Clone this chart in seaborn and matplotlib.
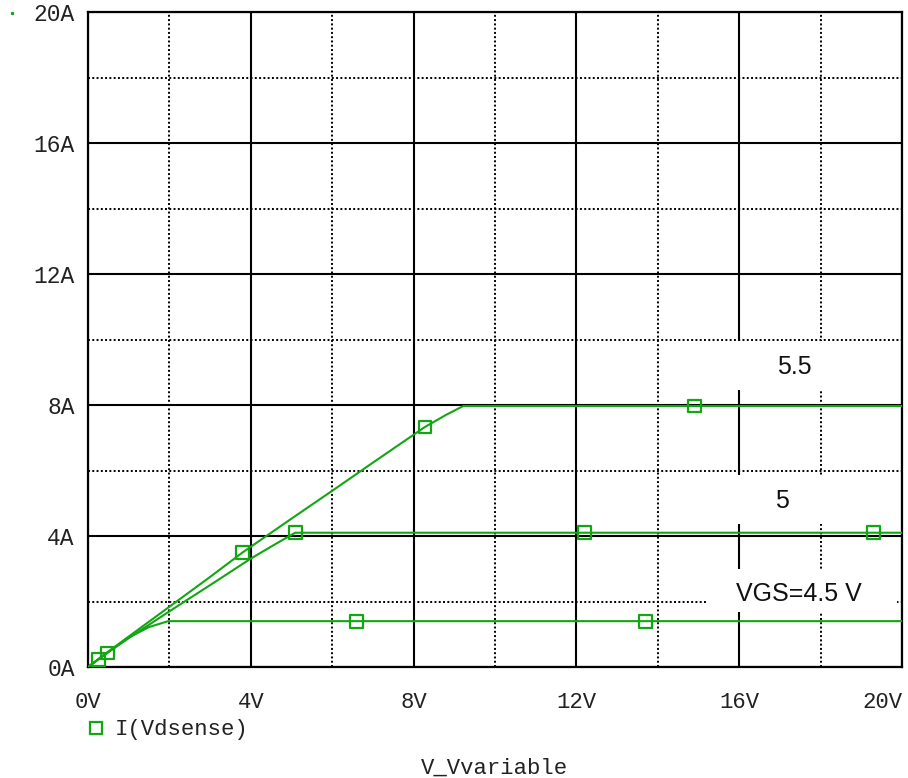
import numpy as np
import pandas as pd
import matplotlib
matplotlib.use("Agg")
import matplotlib.pyplot as plt
import seaborn as sns
from matplotlib.lines import Line2D
from matplotlib.patches import Rectangle
from matplotlib.ticker import MultipleLocator, FuncFormatter

# ---------------- data ----------------
vgs_labels = ["4.5", "5", "5.5"]

v_45 = [0.0, 0.5, 1.0, 1.5, 1.97, 20.0]
i_45 = [0.0, 0.47, 0.90, 1.22, 1.40, 1.40]

v_50 = [0.0, 0.5, 1.0, 2.0, 3.0, 4.0, 4.6, 5.09, 20.0]
i_50 = [0.0, 0.45, 0.88, 1.70, 2.50, 3.31, 3.75, 4.10, 4.10]

v_55 = [0.0, 0.5, 1.0, 2.0, 3.0, 3.8, 5.0, 6.0, 7.0, 8.28, 8.8, 9.22, 20.0]
i_55 = [0.0, 0.47, 0.93, 1.84, 2.75, 3.50, 4.53, 5.38, 6.24, 7.33, 7.70, 7.97, 7.97]

# symbol markers placed along the traces
mk_v = [0.25, 6.6, 13.7, 0.47, 5.09, 12.2, 19.3, 3.8, 8.28, 14.9]
mk_i = [0.24, 1.40, 1.40, 0.43, 4.10, 4.10, 4.10, 3.50, 7.33, 7.97]

x_ticks = [0, 4, 8, 12, 16, 20]
y_ticks = [0, 4, 8, 12, 16, 20]

trace_labels = ["VGS=4.5 V", "5", "5.5"]
trace_label_pos = [(17.46, 2.23), (17.05, 5.07), (17.35, 9.16)]
legend_label = "I(Vdsense)"
x_title = "V_Vvariable"

# ---------------- style ----------------
GREEN = "#12A612"
sns.set_style("white")
plt.rcParams["font.family"] = ["Liberation Mono", "DejaVu Sans Mono"]

fig = plt.figure(figsize=(9.08, 7.78), dpi=100)
ax = fig.add_axes([88 / 908, 1 - 667 / 778, 814 / 908, 655 / 778])

df = pd.concat([
    pd.DataFrame({"V": v_45, "I": i_45, "VGS": vgs_labels[0]}),
    pd.DataFrame({"V": v_50, "I": i_50, "VGS": vgs_labels[1]}),
    pd.DataFrame({"V": v_55, "I": i_55, "VGS": vgs_labels[2]}),
], ignore_index=True)

sns.lineplot(data=df, x="V", y="I", hue="VGS", palette=[GREEN] * 3,
             estimator=None, sort=False, legend=False, linewidth=1.5, ax=ax,
             zorder=3)

mk = pd.DataFrame({"V": mk_v, "I": mk_i})
sns.scatterplot(data=mk, x="V", y="I", marker="s", s=85, color=GREEN,
                linewidth=1.6, ax=ax, zorder=4, legend=False)
for coll in ax.collections:
    coll.set_facecolor("none")
    coll.set_edgecolor(GREEN)

ax.set_xlim(0, 20)
ax.set_ylim(0, 20)
ax.xaxis.set_minor_locator(MultipleLocator(2))
ax.yaxis.set_minor_locator(MultipleLocator(2))
ax.set_xticks(x_ticks)
ax.set_yticks(y_ticks)
ax.xaxis.set_major_formatter(FuncFormatter(lambda v, p: f"{v:.0f}V"))
ax.yaxis.set_major_formatter(FuncFormatter(lambda v, p: f"{v:.0f}A"))

ax.set_axisbelow(True)
ax.grid(which="major", color="black", linewidth=1.5, linestyle="-")
ax.grid(which="minor", color="black", linewidth=1.4, linestyle=(0, (1, 1.2)))

for s in ax.spines.values():
    s.set_visible(True)
    s.set_color("black")
    s.set_linewidth(1.6)

ax.tick_params(axis="x", which="major", direction="out", length=6, width=1.5,
               pad=12, labelsize=16, labelcolor="#222222", color="black")
ax.tick_params(axis="y", which="major", direction="out", length=8, width=1.5,
               pad=1.5, labelsize=16.5, labelcolor="#222222", color="black")
ax.tick_params(which="minor", length=0)
ax.set_xlabel("")
ax.set_ylabel("")

fig.canvas.draw()
xlabels = ax.get_xticklabels()
xlabels[-1].set_horizontalalignment("right")

# white label boxes behind the trace annotations
box_rows = [(1.68, 2.99), (4.37, 5.86), (8.46, 9.95)]
for (y0, y1) in box_rows:
    ax.add_patch(Rectangle((15.23, y0), 19.88 - 15.23, y1 - y0,
                           facecolor="white", edgecolor="none", zorder=1.2))
for txt, (tx, ty) in zip(trace_labels, trace_label_pos):
    ax.text(tx, ty, txt, ha="center", va="center", fontsize=18,
            family=["Liberation Sans", "DejaVu Sans"], color="#111111", zorder=5)

# legend below the axes
handle = Line2D([], [], linestyle="none", marker="s", markersize=8.5,
                markerfacecolor="none", markeredgecolor=GREEN, markeredgewidth=1.6)
fig.legend([handle], [legend_label], loc="center left",
           bbox_to_anchor=(85 / 908, 1 - 730 / 778), frameon=False,
           fontsize=16, handlelength=1.0, handletextpad=0.35,
           borderpad=0, borderaxespad=0, labelcolor="#222222")

fig.text(494 / 908, 1 - 774 / 778, x_title, ha="center", va="baseline",
         fontsize=16, color="#222222")

fig.add_artist(Line2D([12 / 908], [1 - 13 / 778], transform=fig.transFigure,
                      marker="s", markersize=1.3, color=GREEN, linestyle="none"))

fig.savefig("out.png", dpi=100)
